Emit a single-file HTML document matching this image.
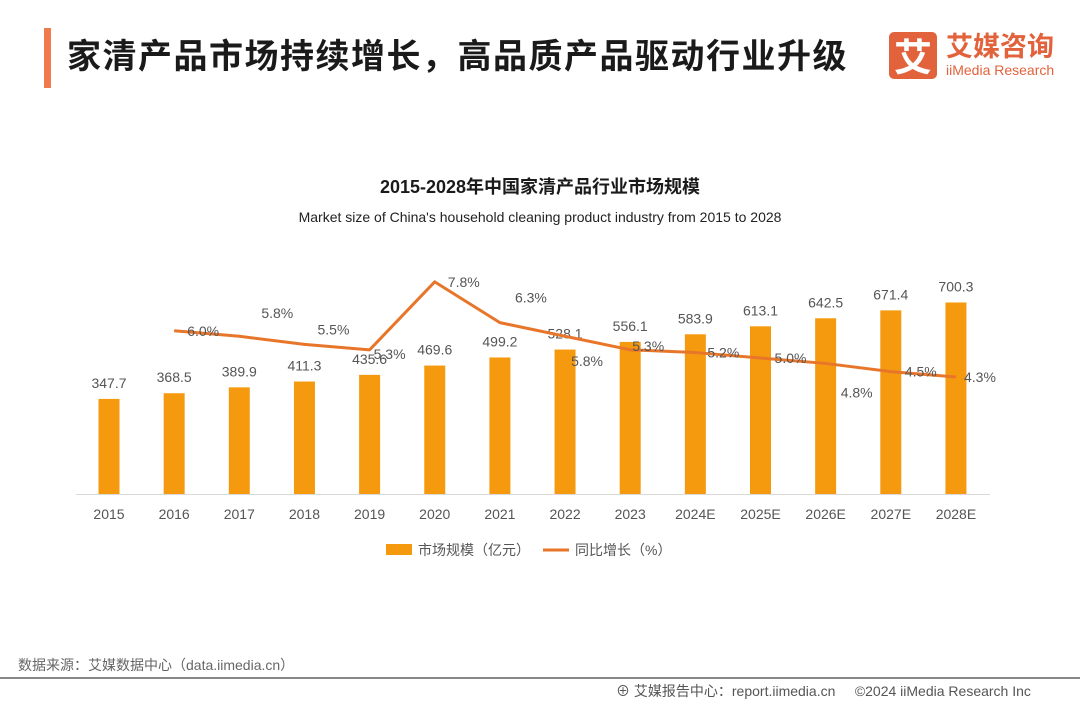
<!DOCTYPE html>
<html><head><meta charset="utf-8">
<style>
body{margin:0;width:1080px;height:702px;background:#fff;overflow:hidden;position:relative;font-family:"Liberation Sans","Noto Sans CJK SC",sans-serif;}
.abs{position:absolute;}
</style></head><body>
<div class="abs" style="left:44px;top:28px;width:7px;height:60px;background:#ee7a4d;"></div>
<div class="abs" style="left:67px;top:29px;font-size:34px;font-weight:bold;color:#1a1a1a;letter-spacing:1.5px;white-space:nowrap;font-family:'Noto Sans CJK SC',sans-serif;">家清产品市场持续增长，高品质产品驱动行业升级</div>
<div class="abs" style="left:889px;top:32px;width:48px;height:47px;background:#e2623c;border-radius:5px;color:#fff;font-size:38px;font-weight:bold;text-align:center;line-height:46px;font-family:'Noto Sans CJK SC',sans-serif;">艾</div>
<div class="abs" style="left:946px;top:28px;color:#e2623c;font-size:27px;font-weight:bold;font-family:'Noto Sans CJK SC',sans-serif;line-height:34px;white-space:nowrap;">艾媒咨询</div>
<div class="abs" style="left:946px;top:62px;color:#e2623c;font-size:14px;white-space:nowrap;">iiMedia Research</div>

<svg class="abs" style="left:0;top:0" width="1080" height="702">
<text x="540" y="193" text-anchor="middle" font-size="18" font-weight="bold" fill="#1a1a1a" font-family="Liberation Sans,Noto Sans CJK SC,sans-serif">2015-2028年中国家清产品行业市场规模</text>
<text x="540" y="222" text-anchor="middle" font-size="14" fill="#222" font-family="Liberation Sans,sans-serif">Market size of China's household cleaning product industry from 2015 to 2028</text>
<g id="plot"></g>
<g>
<rect x="386" y="544" width="26" height="11" fill="#f59a0f"/>
<text x="418" y="555" font-size="14" fill="#555" font-family="Liberation Sans,Noto Sans CJK SC,sans-serif">市场规模（亿元）</text>
<line x1="543" y1="550" x2="569" y2="550" stroke="#e8762a" stroke-width="3"/>
<text x="575" y="555" font-size="14" fill="#555" font-family="Liberation Sans,Noto Sans CJK SC,sans-serif">同比增长（%）</text>
</g>
<line x1="0" y1="678" x2="1080" y2="678" stroke="#888" stroke-width="2"/>
</svg>
<div class="abs" style="left:18px;top:655px;font-size:14px;color:#666;">数据来源：艾媒数据中心（data.iimedia.cn）</div>
<div class="abs" style="left:616px;top:681px;font-size:14px;color:#555;white-space:nowrap;">⊕ 艾媒报告中心：report.iimedia.cn &nbsp;&nbsp;&nbsp;&nbsp;©2024 iiMedia Research Inc</div>

<script>
const categories=["2015","2016","2017","2018","2019","2020","2021","2022","2023","2024E","2025E","2026E","2027E","2028E"];
const marketSize=[347.7,368.5,389.9,411.3,435.6,469.6,499.2,528.1,556.1,583.9,613.1,642.5,671.4,700.3];
const growth=[null,6.0,5.8,5.5,5.3,7.8,6.3,5.8,5.3,5.2,5.0,4.8,4.5,4.3];
const growthLabels=["","6.0%","5.8%","5.5%","5.3%","7.8%","6.3%","5.8%","5.3%","5.2%","5.0%","4.8%","4.5%","4.3%"];
// label offsets (layout only)
const gOffX=[0,29,38,29,20,29,31,22,18,28,30,31,30,24];
const gOffY=[0,5,-18,-10,9,5,-20,30,1,5,5,34,5,5];
const ns="http://www.w3.org/2000/svg";
const g=document.getElementById('plot');
const base=494,x0=109,step=65.15,bw=21;
const xs=i=>x0+i*step;
const yb=v=>base-v*0.2735;
const yl=v=>494-v*27.2;
function mk(t,a){const e=document.createElementNS(ns,t);for(const k in a)e.setAttribute(k,a[k]);g.appendChild(e);return e;}
const ax=mk('line',{x1:76,y1:base+0.5,x2:990,y2:base+0.5,stroke:'#d9d9d9','stroke-width':1});


categories.forEach((c,i)=>{
 const r=mk('rect',{x:xs(i)-bw/2,y:yb(marketSize[i]),width:bw,height:base-yb(marketSize[i]),fill:'#f59a0f'});
 
 
 const t=mk('text',{x:xs(i),y:yb(marketSize[i])-11,'text-anchor':'middle','font-size':14,fill:'#555','font-family':'Liberation Sans,sans-serif'});
 t.textContent=marketSize[i].toFixed(1);
 
 
 const xl=mk('text',{x:xs(i),y:519,'text-anchor':'middle','font-size':14,fill:'#555','font-family':'Liberation Sans,sans-serif'});
 xl.textContent=c;
 
 
});
let d='';
growth.forEach((v,i)=>{if(v==null)return;d+=(d?'L':'M')+xs(i)+','+yl(v);});
const ln=mk('path',{d:d,fill:'none',stroke:'#e8762a','stroke-width':3,'stroke-linejoin':'round'});


growth.forEach((v,i)=>{if(v==null)return;
 const t=mk('text',{x:xs(i)+gOffX[i],y:yl(v)+gOffY[i],'text-anchor':'middle','font-size':14,fill:'#555','font-family':'Liberation Sans,sans-serif'});
 t.textContent=growthLabels[i];
 
 
});
</script>
</body></html>
